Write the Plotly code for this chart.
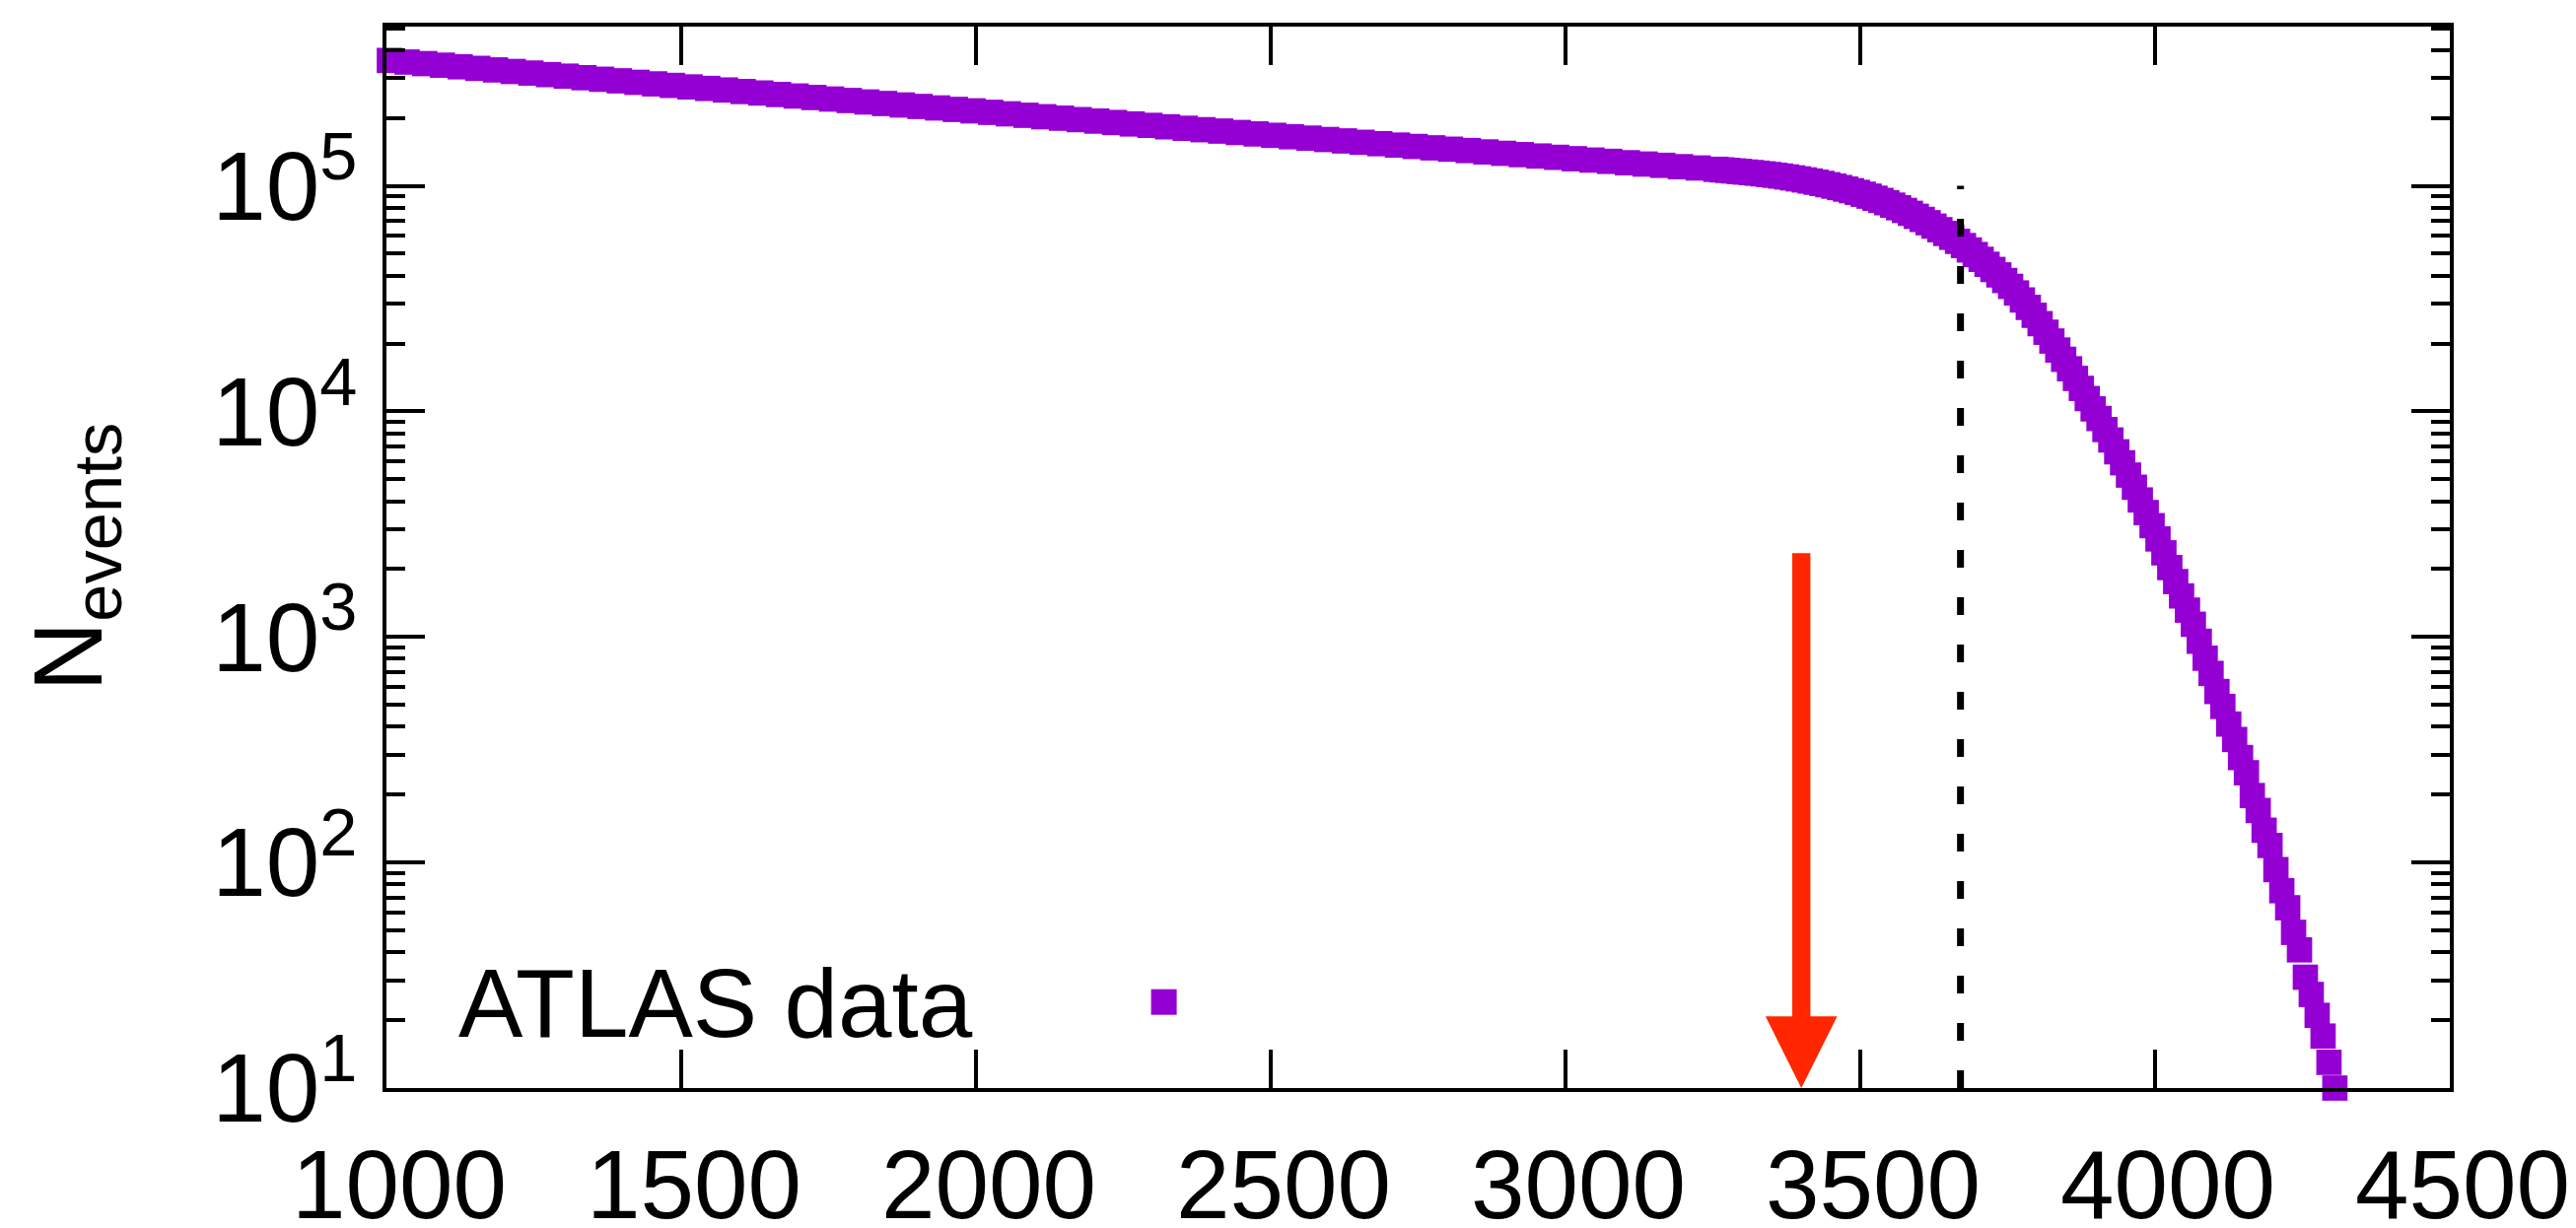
import math
import plotly.graph_objects as go

# ---------------- data ----------------
mass_plateau = [1005, 1035, 1065, 1095, 1125, 1155, 1185, 1215, 1245, 1275,
                1305, 1335, 1365, 1395, 1425, 1455, 1485, 1515, 1545, 1575,
                1605, 1635, 1665, 1695, 1725, 1755, 1785, 1815, 1845, 1875,
                1905, 1935, 1965, 1995, 2025, 2055, 2085, 2115, 2145, 2175,
                2205, 2235, 2265, 2295, 2325, 2355, 2385, 2415, 2445, 2475,
                2505, 2535, 2565, 2595, 2625, 2655, 2685, 2715, 2745, 2775,
                2805, 2835, 2865, 2895, 2925, 2955, 2985, 3015, 3045, 3075,
                3105, 3135, 3165, 3195, 3225, 3255]
events_plateau = [359700, 353900, 348300, 342700, 337200, 331800, 326600, 321400, 316300, 311300,
                  306400, 301600, 296900, 292200, 287700, 283200, 278800, 274500, 270300, 266100,
                  262000, 258000, 254100, 250200, 246400, 242600, 239000, 235400, 231800, 228300,
                  224900, 221500, 218200, 215000, 211800, 208600, 205500, 202500, 199500, 196600,
                  193700, 190900, 188100, 185400, 182700, 180000, 177400, 174900, 172400, 169900,
                  167500, 165100, 162800, 160500, 158200, 156000, 153800, 151600, 149500, 147400,
                  145400, 143400, 141400, 139400, 137500, 135600, 133800, 131900, 130100, 128400,
                  126600, 124900, 123300, 121600, 120000, 118400]

mass_knee = [3265, 3275, 3285, 3295, 3305, 3315, 3325, 3335, 3345, 3355,
             3365, 3375, 3385, 3395, 3405, 3415, 3425, 3435, 3445, 3455,
             3465, 3475, 3485, 3495, 3505, 3515, 3525, 3535, 3545, 3555,
             3565, 3575, 3585, 3595, 3605, 3615, 3625, 3635, 3645, 3655,
             3665, 3675, 3685, 3695, 3705, 3715, 3725, 3735, 3745, 3755,
             3765, 3775, 3785, 3795, 3805, 3815, 3825, 3835, 3845, 3855,
             3865, 3875, 3885, 3895, 3905]
events_knee = [117760, 117110, 116470, 115800, 115130, 114470, 113790, 113060, 112280, 111430,
               110510, 109520, 108470, 107380, 106250, 105050, 103800, 102500, 101140, 99720,
               98270, 96760, 95190, 93540, 91810, 90010, 88130, 86180, 84180, 82110,
               79980, 77790, 75540, 73270, 70960, 68630, 66290, 63920, 61530, 59150,
               56750, 54360, 51970, 49590, 47230, 44890, 42580, 40290, 38050, 35840,
               33500, 31190, 28910, 26670, 24490, 22440, 20510, 18710, 17020, 15450,
               14000, 12650, 11400, 10260, 9300]

mass_tail = [3915, 3925, 3935, 3945, 3955, 3965, 3975, 3985, 3995, 4005,
             4015, 4025, 4035, 4045, 4055, 4065, 4075, 4085, 4095, 4105,
             4115, 4125, 4135, 4145, 4155, 4165, 4175, 4185, 4195, 4205,
             4215, 4225, 4235, 4245, 4255, 4265, 4275, 4285, 4295, 4305]
events_tail = [8310, 7470, 6620, 5920, 5220, 4610, 4050, 3560, 3115, 2720,
               2360, 2030, 1760, 1520, 1315, 1138, 957, 805, 689, 573,
               492, 411, 351, 292, 250, 198, 170, 139, 119, 93,
               75, 63, 49, 41, 31, 26, 21, 17, 13, 10]

x_tickvals = [1000, 1500, 2000, 2500, 3000, 3500, 4000, 4500]
x_ticktext = ["1000", "1500", "2000", "2500", "3000", "3500", "4000", "4500"]
y_tickvals = [10, 100, 1000, 10000, 100000]
y_ticktext = ["10<sup>1</sup>", "10<sup>2</sup>", "10<sup>3</sup>", "10<sup>4</sup>", "10<sup>5</sup>"]

cut_mass = 3670          # dashed vertical line
cut_range = [10, 100000]
arrow_mass = 3400        # red arrow
arrow_top = 2390
arrow_tip = 10

legend_label = "ATLAS data"
y_title = "N<sub>events</sub>"

# ---------------- style ----------------
PURPLE = "#9400D3"
RED = "#FF2600"
FONT = "Liberation Sans, Arial, Helvetica, sans-serif"
FS = 98
W, H = 2613, 1246
ML, MR, MT, MB = 384, 136, 19, 150
plot_w = W - ML - MR
plot_h = H - MT - MB
BOTTOM = H - MB


def px_x(p):
    return (p - ML) / plot_w


def px_y(p):
    return (BOTTOM - p) / plot_h


mass = mass_plateau + mass_knee + mass_tail
events = events_plateau + events_knee + events_tail

fig = go.Figure()
fig.add_trace(go.Scatter(
    x=mass, y=events, mode="markers",
    marker=dict(symbol="square", size=25.7, color=PURPLE, line=dict(width=0)),
    cliponaxis=False, showlegend=False,
))
fig.add_trace(go.Scatter(
    x=[cut_mass, cut_mass], y=cut_range, mode="lines",
    line=dict(color="black", width=7, dash="18px,30px"),
    showlegend=False,
))

minor_vals = [m * 10 ** k for k in range(1, 6) for m in range(2, 10)]

axis_common = dict(
    showline=True, linecolor="black", linewidth=4, mirror="ticks",
    ticks="inside", ticklen=39, tickwidth=4, tickcolor="black",
    showgrid=False, zeroline=False, automargin=False,
    tickfont=dict(family=FONT, size=FS, color="black"),
)

fig.update_xaxes(range=[1000, 4500], tickmode="array", tickvals=x_tickvals,
                 ticktext=x_ticktext, ticklabelstandoff=10, ticklabelshift=13,
                 **axis_common)
fig.update_yaxes(type="log", range=[1, 5.706], tickmode="array", tickvals=y_tickvals,
                 ticktext=y_ticktext, ticklabelstandoff=6,
                 minor=dict(tickmode="array", tickvals=minor_vals, ticks="inside",
                            ticklen=19, tickwidth=3.5, tickcolor="black", showgrid=False),
                 **axis_common)

annotations = [
    dict(x=arrow_mass, y=math.log10(arrow_tip), xref="x", yref="y",
         ax=arrow_mass, ay=math.log10(arrow_top), axref="x", ayref="y",
         showarrow=True, arrowhead=2, arrowsize=0.79, arrowwidth=18.4,
         arrowcolor=RED, text=""),
    dict(x=px_x(455), y=px_y(1010),
         xref="paper", yref="paper", xanchor="left", yanchor="middle",
         text=legend_label, showarrow=False,
         font=dict(family=FONT, size=FS, color="black")),
    dict(x=px_x(68), y=0.5, xref="paper", yref="paper",
         xanchor="center", yanchor="middle", textangle=-90,
         text=y_title, showarrow=False,
         font=dict(family=FONT, size=FS, color="black")),
]

mk_cx, mk_cy, mk_half = 1172.6, 1008.7, 13
shapes = [dict(type="rect", xref="paper", yref="paper",
               x0=px_x(mk_cx - mk_half), x1=px_x(mk_cx + mk_half),
               y0=px_y(mk_cy + mk_half), y1=px_y(mk_cy - mk_half),
               fillcolor=PURPLE, line=dict(width=0))]

fig.update_layout(
    width=W, height=H,
    margin=dict(l=ML, r=MR, t=MT, b=MB, pad=0, autoexpand=False),
    paper_bgcolor="white", plot_bgcolor="white",
    font=dict(family=FONT, size=FS, color="black"),
    annotations=annotations, shapes=shapes,
    showlegend=False,
)

fig.write_html("out.html")
